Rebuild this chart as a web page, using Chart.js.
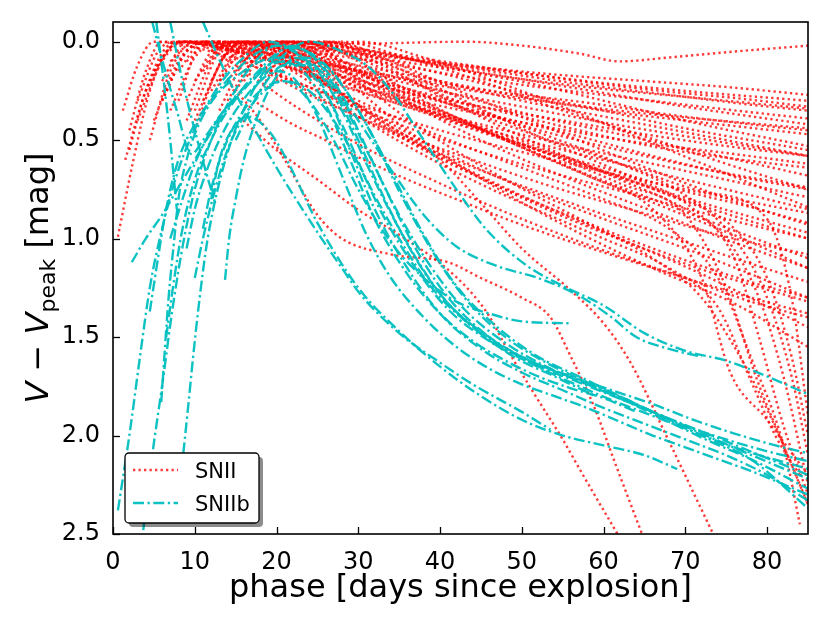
<!DOCTYPE html>
<html>
<head>
<meta charset="utf-8">
<script src="https://cdn.jsdelivr.net/npm/chart.js@4.4.1/dist/chart.umd.min.js"></script>
<style>
  html, body { margin: 0; padding: 0; background: #fff; }
  canvas { display: block; }
</style>
</head>
<body>
<canvas id="lcChart" width="830" height="623"></canvas>
<script>
// Ejes
const xTicks = [0, 10, 20, 30, 40, 50, 60, 70, 80];
const yTicks = [0, 0.5, 1.0, 1.5, 2.0, 2.5];

// SNII: curvas [fase, V - Vpeak]
const snII = [
  [[14,0.3],[17,0.1],[20,0],[30,0.01],[43,0],[50,0.02],[57,0.06],[62,0.1],[68,0.08],[76,0.05],[85,0.02]],
  [[10,0.2],[13,0.03],[16,0],[25,0.03],[35,0.08],[45,0.13],[55,0.17],[65,0.2],[75,0.23],[85,0.27]],
  [[8,0.15],[11,0],[20,0.01],[30,0.06],[40,0.11],[50,0.16],[60,0.21],[70,0.25],[85,0.3]],
  [[12,0.25],[15,0.05],[18,0],[27,0.02],[37,0.08],[47,0.14],[57,0.2],[67,0.25],[77,0.29],[85,0.33]],
  [[16,0.15],[20,0],[28,0.03],[38,0.1],[48,0.16],[58,0.22],[68,0.27],[78,0.32],[85,0.35]],
  [[6,0.3],[9,0.05],[12,0],[22,0.04],[32,0.1],[42,0.17],[52,0.23],[62,0.28],[72,0.33],[85,0.39]],
  [[18,0.1],[22,0],[30,0.04],[40,0.12],[50,0.19],[60,0.26],[70,0.33],[85,0.42]],
  [[4,0.25],[7,0.03],[10,0],[18,0.05],[28,0.13],[38,0.2],[48,0.26],[58,0.31],[68,0.37],[78,0.42],[85,0.45]],
  [[20,0.08],[25,0],[32,0.05],[42,0.14],[52,0.22],[62,0.32],[72,0.42],[85,0.53]],
  [[9,0.3],[12,0.05],[15,0],[22,0.06],[30,0.15],[40,0.25],[50,0.33],[60,0.41],[70,0.48],[85,0.58]],
  [[3,0.4],[6,0.1],[9,0],[16,0.06],[24,0.16],[34,0.27],[44,0.36],[54,0.44],[64,0.51],[74,0.56],[85,0.62]],
  [[13,0.2],[17,0],[24,0.05],[32,0.15],[42,0.27],[52,0.38],[62,0.47],[72,0.56],[85,0.68]],
  [[24,0.05],[28,0],[35,0.07],[45,0.2],[55,0.35],[65,0.48],[75,0.62],[85,0.75]],
  [[7,0.35],[10,0.08],[13,0],[20,0.08],[28,0.2],[36,0.32],[46,0.43],[56,0.53],[66,0.62],[76,0.71],[85,0.79]],
  [[1.2,0.35],[3,0.12],[5,0],[12,0.05],[20,0.17],[30,0.32],[40,0.45],[50,0.56],[60,0.66],[70,0.75],[85,0.87]],
  [[11,0.3],[14,0.05],[17,0],[24,0.1],[32,0.25],[40,0.38],[50,0.52],[60,0.64],[70,0.76],[78,0.84],[85,0.92]],
  [[15,0.15],[19,0],[26,0.1],[34,0.27],[44,0.43],[54,0.58],[64,0.72],[74,0.86],[85,1.0]],
  [[1.5,0.6],[4,0.25],[7,0.03],[9,0],[16,0.1],[24,0.27],[34,0.45],[44,0.6],[54,0.74],[64,0.86],[74,0.98],[85,1.08]],
  [[21,0.1],[24,0],[30,0.1],[38,0.3],[48,0.5],[58,0.68],[68,0.85],[77,1.0],[85,1.15]],
  [[5,0.4],[8,0.1],[11,0],[18,0.12],[26,0.3],[36,0.5],[46,0.67],[56,0.82],[66,0.96],[76,1.1],[85,1.22]],
  [[10,0.35],[13,0.05],[16,0],[22,0.12],[30,0.32],[40,0.55],[50,0.74],[60,0.9],[70,1.05],[78,1.18],[85,1.3]],
  [[0.6,0.99],[2.5,0.6],[4.5,0.25],[7,0.03],[9,0],[15,0.12],[22,0.32],[30,0.52],[40,0.72],[50,0.9],[60,1.06],[70,1.2],[78,1.32],[85,1.4]],
  [[14,0.2],[18,0],[24,0.15],[32,0.38],[42,0.62],[52,0.82],[62,1.0],[72,1.18],[85,1.45]],
  [[18,0.1],[22,0],[28,0.18],[36,0.45],[46,0.72],[56,0.95],[66,1.15],[76,1.33],[85,1.55]],
  [[6,0.3],[9,0.05],[12,0],[20,0.1],[30,0.3],[40,0.48],[50,0.64],[60,0.8],[68,0.95],[74,1.2],[78,1.6],[82,2.05],[84,2.45]],
  [[12,0.2],[15,0],[22,0.08],[32,0.25],[42,0.4],[52,0.55],[62,0.72],[70,0.88],[75,1.25],[78.8,1.72],[82,2.05],[85,2.35]],
  [[16,0.1],[20,0],[28,0.12],[38,0.32],[48,0.5],[58,0.68],[66,0.85],[72,1.2],[75.5,1.68],[80,1.92],[82.5,2.06],[85,2.2]],
  [[8,0.3],[11,0],[18,0.08],[28,0.22],[38,0.36],[48,0.5],[58,0.63],[68,0.78],[76,0.95],[80,1.2],[83,1.6],[85,2.0]],
  [[20,0.1],[24,0],[32,0.12],[42,0.3],[52,0.46],[62,0.62],[70,0.78],[76,1.0],[80,1.3],[83,1.7],[85,2.1]],
  [[10,0.4],[14,0.05],[17,0],[24,0.15],[32,0.38],[40,0.6],[45,0.82],[50,1.05],[55.9,1.26],[60,1.43],[63.3,1.63],[68,2.03],[73.4,2.5]],
  [[14,0.2],[18,0.4],[21,0.6],[25,0.88],[28,1.0],[34,1.08],[41,1.12],[45,1.2],[50,1.3],[53.5,1.4],[56,1.6],[58.8,1.85],[61.5,2.15],[64.7,2.5]],
  [[15.9,0.4],[20,0.55],[25,0.7],[30.2,0.86],[35,0.98],[42.1,1.2],[45.8,1.38],[48.2,1.56],[51.4,1.78],[55,2.02],[57.2,2.18],[61.7,2.5]],
  [[17.6,0.31],[22,0.42],[26,0.5],[30.2,0.59],[36,0.7],[42,0.8],[50,0.93],[60,1.07],[70,1.2],[78,1.3],[85,1.38]],
  [[2,0.45],[4,0.15],[6,0],[14,0.03],[24,0.1],[34,0.18],[44,0.25],[54,0.31],[64,0.36],[74,0.4],[85,0.44]],
  [[9,0.1],[12,0],[20,0.02],[30,0.07],[40,0.13],[50,0.19],[60,0.24],[70,0.28],[85,0.34]],
  [[17,0.05],[21,0],[30,0.06],[40,0.16],[50,0.26],[60,0.35],[70,0.44],[85,0.55]],
  [[13,0.1],[16,0],[24,0.08],[34,0.22],[44,0.35],[54,0.47],[64,0.57],[74,0.66],[85,0.74]],
  [[4.5,0.5],[7,0.15],[10,0],[17,0.1],[25,0.25],[35,0.42],[45,0.56],[55,0.68],[65,0.79],[75,0.9],[85,1.0]],
  [[19,0.15],[23,0],[30,0.15],[38,0.35],[46,0.52],[56,0.7],[66,0.86],[76,1.02],[85,1.15]],
  [[3,0.3],[5.5,0.05],[8,0],[16,0.06],[26,0.2],[36,0.33],[46,0.45],[56,0.56],[66,0.66],[76,0.76],[85,0.85]],
  [[15,0.25],[18,0.05],[21,0],[28,0.1],[36,0.27],[46,0.46],[56,0.64],[66,0.8],[76,0.96],[85,1.1]],
  [[26,0.05],[30,0],[38,0.08],[48,0.22],[58,0.38],[68,0.55],[78,0.72],[85,0.84]],
  [[10,0.45],[13,0.12],[16,0],[23,0.13],[30,0.35],[38,0.55],[48,0.75],[58,0.92],[68,1.08],[78,1.22],[85,1.3]],
  [[22,0.1],[26,0],[33,0.12],[42,0.32],[52,0.52],[62,0.7],[70,0.85],[75,1.0],[79,1.3],[82,1.7],[85,2.25]],
  [[6,0.2],[9,0],[17,0.04],[27,0.14],[37,0.25],[47,0.35],[57,0.45],[67,0.54],[77,0.6],[85,0.64]],
  [[11,0.15],[14,0],[22,0.05],[32,0.18],[42,0.33],[52,0.48],[62,0.62],[72,0.76],[80,0.9],[83,1.3],[85,1.9]],
  [[16,0.2],[19,0.02],[22,0],[30,0.08],[40,0.2],[50,0.3],[60,0.38],[70,0.46],[85,0.58]],
  [[7,0.1],[10,0],[20,0.04],[30,0.12],[40,0.2],[50,0.28],[60,0.35],[70,0.4],[85,0.47]],
  [[12,0.3],[15,0.05],[18,0],[25,0.1],[33,0.24],[43,0.4],[53,0.55],[63,0.7],[73,0.83],[85,0.97]],
  [[20,0.2],[23,0.02],[26,0],[33,0.1],[43,0.3],[53,0.5],[63,0.68],[71,0.85],[76,1.1],[79,1.5],[82,1.95],[85,2.3]],
  [[9,0.4],[12,0.1],[15,0],[22,0.15],[30,0.38],[40,0.62],[50,0.82],[60,1.0],[68,1.15],[74,1.35],[78,1.72],[81,2.0],[84,2.2]],
  [[5,0.15],[8,0],[16,0.05],[26,0.15],[36,0.26],[46,0.37],[56,0.47],[66,0.58],[76,0.68],[85,0.75]],
  [[23,0.05],[27,0],[34,0.1],[44,0.28],[54,0.45],[64,0.62],[74,0.78],[85,0.93]],
  [[13,0.35],[16,0.1],[19,0],[25,0.18],[33,0.42],[43,0.65],[53,0.85],[63,1.02],[73,1.17],[85,1.32]],
  [[18,0.25],[21,0.05],[24,0],[30,0.2],[38,0.45],[48,0.7],[58,0.92],[66,1.1],[72,1.3],[76,1.55],[79,1.78],[82,2.05],[85,2.35]],
  [[2,0.55],[4,0.25],[6.5,0.03],[8.5,0],[15,0.05],[25,0.15],[35,0.25],[45,0.33],[55,0.4],[65,0.47],[75,0.53],[85,0.58]]
];

// SNIIb: curvas [fase, V - Vpeak]
const snIIb = [
  [[0.6,2.38],[2,2.0],[3.3,1.6],[4.5,1.25],[6,0.95],[8,0.65],[10.5,0.4],[13,0.22],[16,0.08],[19,0],[25,0.15],[28,0.35],[31,0.62],[35,0.95],[40,1.28],[45,1.48],[50,1.6],[55,1.69],[60,1.77],[65,1.86],[70,1.95],[75,2.02],[80,2.08],[85,2.13]],
  [[3.7,2.48],[4.8,2.1],[6.1,1.72],[7.3,1.35],[8.6,1.02],[10,0.75],[12,0.5],[14.5,0.28],[17,0.12],[20,0.02],[24,0.06],[27,0.2],[30,0.45],[33,0.72],[37,1.05],[41,1.3],[46,1.5],[51,1.63],[56,1.73],[61,1.82],[66,1.9],[71,1.98],[76,2.06],[85,2.17]],
  [[8.6,2.09],[9.2,1.85],[9.8,1.6],[10.6,1.3],[11.5,1.02],[12.8,0.75],[14.5,0.5],[16.5,0.3],[19,0.12],[21.5,0.03],[25,0.08],[28,0.22],[31,0.42],[34,0.66],[38,0.98],[42,1.24],[47,1.45],[52,1.6],[57,1.7],[62,1.8],[67,1.9],[72,1.99],[77,2.08],[85,2.22]],
  [[2.3,1.12],[4,1.0],[6,0.88],[8,0.74],[10,0.6],[12,0.46],[14,0.34],[16,0.23],[18,0.14],[20,0.06],[22,0.02],[25,0.1],[28,0.3],[31,0.55],[35,0.88],[39,1.15],[43,1.36],[48,1.53],[53,1.65],[58,1.74],[63,1.83],[68,1.93],[73,2.03],[78,2.12],[85,2.27]],
  [[4.5,1.37],[5.5,1.1],[6.5,0.85],[8,0.6],[10,0.42],[12.5,0.27],[15,0.15],[17.5,0.06],[20,0.02],[23,0.08],[26,0.25],[29,0.55],[32,0.85],[36,1.15],[40,1.38],[45,1.56],[50,1.68],[55,1.77],[60,1.86],[65,1.94],[70,2.02],[75,2.1],[80,2.2],[85,2.33]],
  [[13.7,1.21],[14.2,1.0],[15,0.8],[16,0.6],[17.5,0.4],[19,0.25],[21,0.12],[23,0.08],[26,0.12],[29,0.28],[32,0.5],[35,0.76],[39,1.06],[43,1.3],[48,1.5],[53,1.63],[58,1.73],[63,1.82],[68,1.92],[73,2.02],[78,2.12],[85,2.37]],
  [[6.5,1.5],[7.5,1.2],[8.5,0.95],[10,0.7],[12,0.5],[14,0.35],[16.5,0.22],[19,0.12],[22,0.1],[25,0.2],[28,0.42],[31,0.7],[35,1.0],[39,1.25],[44,1.45],[49,1.6],[54,1.7],[59,1.8]],
  [[7,1.0],[8.5,0.8],[10,0.62],[12,0.45],[14.5,0.3],[17,0.2],[20,0.1],[23,0.14],[26,0.32],[29,0.6],[32,0.9],[36,1.18],[40,1.38],[44,1.52],[48,1.62],[52,1.7],[56,1.76],[60,1.81],[64,1.88]],
  [[9,1.05],[10,0.85],[11.5,0.65],[13,0.5],[15,0.35],[17.5,0.22],[20,0.15],[22,0.18],[25,0.38],[28,0.68],[31,0.98],[34,1.2],[38,1.4],[42,1.55],[46,1.66],[50,1.74],[54,1.8],[58,1.86],[62,1.93],[66,2.0],[70,2.06],[74,2.12],[78,2.18],[85,2.3]],
  [[11,0.95],[12,0.75],[13.5,0.55],[15.5,0.38],[18,0.25],[21,0.2],[24,0.25],[27,0.4],[30,0.62],[33,0.88],[37,1.15],[41,1.36],[46,1.52],[51,1.63],[57,1.73],[63,1.83],[69,1.93],[75,2.03],[85,2.2]],
  [[12,0.8],[13,0.6],[14.5,0.45],[16.5,0.38],[19,0.45],[21,0.58],[25,0.92],[30,1.25],[35,1.47],[40,1.65],[45,1.8],[50,1.92],[55,2.0],[60,2.05],[65,2.1],[69,2.17]],
  [[11,-0.1],[14,0.18],[17,0.42],[20,0.64],[23,0.84],[26,1.03],[28,1.15],[30.2,1.28],[35,1.48],[40,1.63],[44,1.74],[47.4,1.82],[50,1.88],[53.5,1.97]],
  [[4.8,-0.1],[6.2,0.12],[7.8,0.35],[9.6,0.57],[11,0.5],[13,0.38],[15,0.28]],
  [[5.3,-0.1],[6.2,0.2],[7,0.5],[7.8,0.85]],
  [[7,-0.1],[8.5,0.2],[10,0.45],[11.5,0.68],[12.5,0.82]],
  [[17,0.25],[20,0.1],[24,0],[28,0.05],[31,0.12],[34,0.25],[38,0.5],[42,0.75],[45.8,0.96],[50.7,1.14],[55,1.24],[60,1.34],[65,1.48],[70,1.57],[75,1.62],[80,1.7],[85,1.79]],
  [[15,0.5],[18,0.25],[21,0.12],[24,0.12],[27,0.22],[30,0.4],[34,0.65],[38,0.88],[42,1.04],[47,1.14],[52,1.2],[57,1.29],[61,1.4],[64,1.5],[68,1.56],[72,1.6]],
  [[5.9,1.83],[6.8,1.3],[7.5,1.0],[8,0.8],[9,0.6],[10.5,0.42],[12.5,0.28],[15,0.18],[18,0.1],[21,0.08],[24,0.1],[27,0.25],[30,0.5],[33,0.78],[37,1.1],[41,1.33],[46,1.5],[51,1.62],[56,1.7],[61,1.77],[66,1.84],[71,1.92],[76,1.99],[81,2.05],[85,2.09]],
  [[10,1.2],[11,1.0],[12.5,0.75],[14,0.55],[16,0.38],[18.5,0.25],[21,0.2],[24,0.3],[27,0.5],[30,0.75],[34,1.02],[38,1.2],[42,1.32],[46,1.38],[50,1.42],[55.9,1.43]]
];

const RED = 'rgba(255, 0, 0, 0.78)';
const CYAN = 'rgba(0, 191, 191, 0.95)';
const RED_DASH = [2.3, 3.2];
const CYAN_DASH = [11, 3.5, 2.3, 3.5];
const FONT = "'DejaVu Sans', sans-serif";

function toPoints(curve) {
    return curve.map(p => ({ x: p[0], y: p[1] }));
}

const datasets = [];
snII.forEach((c, i) => {
    datasets.push({
        label: i === 0 ? 'SNII' : '',
        data: toPoints(c),
        borderColor: RED,
        borderWidth: 2.4,
        borderDash: RED_DASH,
        pointRadius: 0,
        cubicInterpolationMode: 'monotone',
        order: 2
    });
});
snIIb.forEach((c, i) => {
    datasets.push({
        label: i === 0 ? 'SNIIb' : '',
        data: toPoints(c),
        borderColor: CYAN,
        borderWidth: 2.4,
        borderDash: CYAN_DASH,
        pointRadius: 0,
        cubicInterpolationMode: 'monotone',
        order: 1
    });
});

// Marco, ticks hacia dentro, títulos y leyenda
const decor = {
    id: 'decor',
    afterDatasetsDraw(chart) {
        const { ctx, chartArea: a, scales } = chart;
        ctx.save();
        ctx.strokeStyle = '#000';
        ctx.lineWidth = 1.3;
        xTicks.forEach(v => {
            const px = Math.round(scales.x.getPixelForValue(v)) + 0.5;
            ctx.beginPath(); ctx.moveTo(px, a.bottom); ctx.lineTo(px, a.bottom - 7); ctx.stroke();
        });
        yTicks.forEach(v => {
            const py = Math.round(scales.y.getPixelForValue(v)) + 0.5;
            ctx.beginPath(); ctx.moveTo(a.left, py); ctx.lineTo(a.left + 7, py); ctx.stroke();
        });
        ctx.lineWidth = 1.6;
        ctx.strokeRect(a.left, a.top, a.right - a.left, a.bottom - a.top);

        // título eje x
        ctx.fillStyle = '#000';
        ctx.font = '32px ' + FONT;
        ctx.textAlign = 'center';
        ctx.textBaseline = 'alphabetic';
        ctx.fillText('phase [days since explosion]', (a.left + a.right) / 2, 597);

        // título eje y con subíndice
        const parts = [
            { t: 'V', f: 'italic 32px ' + FONT, dy: 0 },
            { t: ' \u2212 ', f: '32px ' + FONT, dy: 0 },
            { t: 'V', f: 'italic 32px ' + FONT, dy: 0 },
            { t: 'peak', f: '22px ' + FONT, dy: 7 },
            { t: ' [mag]', f: '32px ' + FONT, dy: 0 }
        ];
        let total = 0;
        parts.forEach(p => { ctx.font = p.f; p.w = ctx.measureText(p.t).width; total += p.w; });
        ctx.translate(48, (a.top + a.bottom) / 2);
        ctx.rotate(-Math.PI / 2);
        ctx.textAlign = 'left';
        let cx = -total / 2;
        parts.forEach(p => { ctx.font = p.f; ctx.fillText(p.t, cx, p.dy); cx += p.w; });
        ctx.restore();

        // leyenda
        ctx.save();
        const lx = 125, ly = 453, lw = 134, lh = 70;
        ctx.fillStyle = 'rgba(0,0,0,0.45)';
        ctx.beginPath(); ctx.roundRect(lx + 4, ly + 4, lw, lh, 4); ctx.fill();
        ctx.fillStyle = '#fff';
        ctx.strokeStyle = '#000';
        ctx.lineWidth = 1.3;
        ctx.beginPath(); ctx.roundRect(lx, ly, lw, lh, 4); ctx.fill(); ctx.stroke();
        ctx.lineWidth = 2.4;
        ctx.strokeStyle = RED; ctx.setLineDash(RED_DASH);
        ctx.beginPath(); ctx.moveTo(133, 470); ctx.lineTo(178, 470); ctx.stroke();
        ctx.strokeStyle = CYAN; ctx.setLineDash(CYAN_DASH);
        ctx.beginPath(); ctx.moveTo(133, 503); ctx.lineTo(178, 503); ctx.stroke();
        ctx.setLineDash([]);
        ctx.fillStyle = '#000';
        ctx.font = '21px ' + FONT;
        ctx.textAlign = 'left';
        ctx.textBaseline = 'alphabetic';
        ctx.fillText('SNII', 195, 478);
        ctx.fillText('SNIIb', 195, 511);
        ctx.restore();
    }
};

const chart = new Chart(document.getElementById('lcChart').getContext('2d'), {
    type: 'line',
    data: { datasets: datasets },
    options: {
        responsive: false,
        animation: false,
        devicePixelRatio: 1,
        layout: { padding: { top: 22, right: 22, left: 0, bottom: 0 } },
        plugins: { legend: { display: false }, tooltip: { enabled: false } },
        scales: {
            x: {
                type: 'linear',
                min: 0,
                max: 85,
                grid: { display: false },
                border: { display: false },
                afterBuildTicks: s => { s.ticks = xTicks.map(v => ({ value: v })); },
                afterFit: s => { s.height = 89; },
                ticks: {
                    color: '#000',
                    padding: 6,
                    maxRotation: 0,
                    font: { family: FONT, size: 24 },
                    callback: v => String(v)
                }
            },
            y: {
                type: 'linear',
                reverse: true,
                min: -0.1,
                max: 2.5,
                grid: { display: false },
                border: { display: false },
                afterBuildTicks: s => { s.ticks = yTicks.map(v => ({ value: v })); },
                afterFit: s => { s.width = 113; },
                ticks: {
                    color: '#000',
                    padding: 5,
                    font: { family: FONT, size: 24 },
                    callback: v => Number(v).toFixed(1)
                }
            }
        }
    },
    plugins: [decor]
});
</script>
</body>
</html>
